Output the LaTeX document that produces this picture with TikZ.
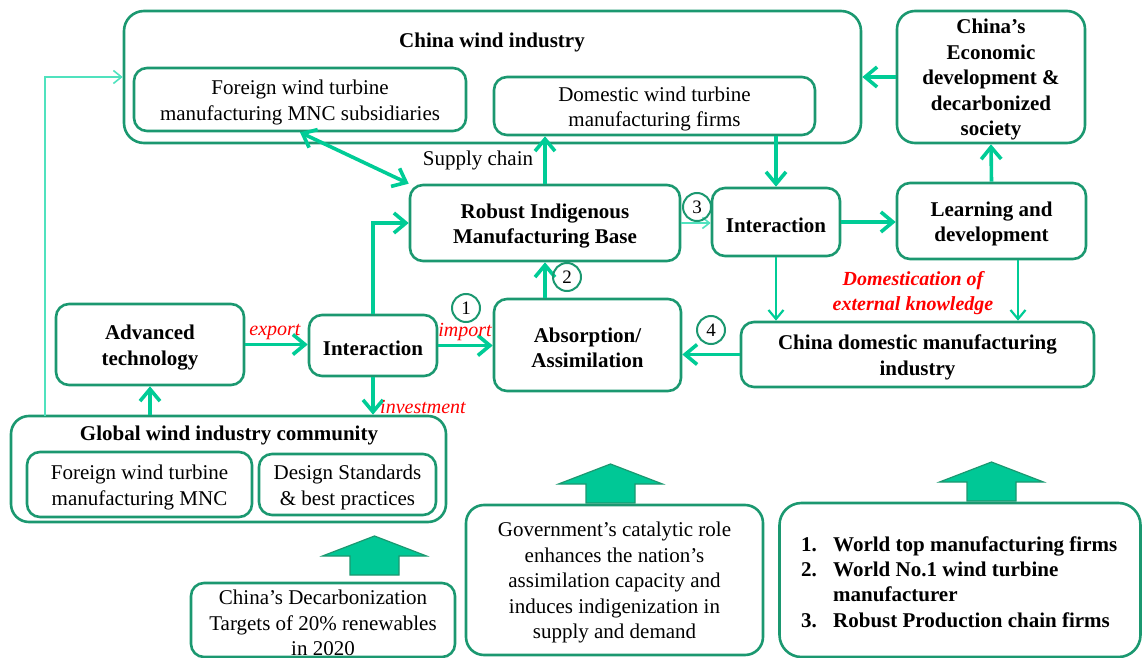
\documentclass[tikz,border=0pt]{standalone}
\usepackage{fontspec}
\setmainfont{Liberation Serif}
\usetikzlibrary{arrows.meta,calc}
\definecolor{boxc}{RGB}{27,152,112}
\definecolor{arrc}{RGB}{0,204,150}
\definecolor{lightc}{RGB}{80,226,190}
\definecolor{redc}{RGB}{255,0,0}
\definecolor{fillc}{RGB}{0,200,150}
% tall strut opening the first line of a box text
\newcommand\lnup{\rule{0pt}{20.5pt}}
\begin{document}
\begin{tikzpicture}[x=1pt,y=-1pt,
  box/.style={draw=boxc, line width=2.6, rounded corners=13, inner sep=0,
    align=center, font=\fontsize{21}{25.5}\selectfont},
  bbox/.style={box, font=\fontsize{21}{25.5}\selectfont\bfseries},
  txt/.style={inner sep=0, align=center, font=\fontsize{21}{25.5}\selectfont},
  btxt/.style={txt, font=\fontsize{21}{25.5}\selectfont\bfseries},
  redlbl/.style={inner sep=0, text=redc, font=\fontsize{20}{24}\selectfont\itshape},
  numc/.style={circle, draw=boxc, line width=2, minimum size=28, inner sep=0,
    font=\fontsize{19}{19}\selectfont},
  arr/.style={draw=arrc, line width=3.6, -{Straight Barb[length=12,width=20]}},
  darr/.style={draw=arrc, line width=3.6, {Straight Barb[length=12,width=20]}-{Straight Barb[length=12,width=20]}},
  tarr/.style={draw=arrc, line width=2.2, -{Straight Barb[length=9,width=15]}},
  fbarr/.style={draw=lightc, line width=1.6, -{Straight Barb[length=8,width=13]}},
  blockarr/.style={draw=boxc, line width=1.2, fill=fillc}
]
\useasboundingbox (0,0) rectangle (1143,658);

% --- China wind industry group ---
\node[box, rounded corners=20, minimum width=737, minimum height=132] (cwi) at (492.5,77) {};
\node[btxt] (cwititle) at (492,40) {\lnup China wind industry};
\node[box, minimum width=332, minimum height=63] (fsub) at (300,99.5)
  {\lnup Foreign wind turbine\\manufacturing MNC subsidiaries};
\node[box, minimum width=321, minimum height=58] (dom) at (654.5,106)
  {\lnup Domestic wind turbine\\manufacturing firms};

\node[bbox, rounded corners=18, minimum width=188, minimum height=132] (econ) at (991,77)
  {\lnup China’s\\Economic\\development \&\\decarbonized\\society};

% --- middle row ---
\node[bbox, minimum width=270, minimum height=76] (robust) at (545,223)
  {\lnup Robust Indigenous\\Manufacturing Base};
\node[bbox, minimum width=128, minimum height=68] (inter2) at (776,222) {\lnup Interaction};
\node[bbox, minimum width=189, minimum height=76] (learn) at (991.5,221)
  {\lnup Learning and\\development};

\node[bbox, minimum width=188, minimum height=81] (adv) at (150,344.5)
  {\lnup Advanced\\technology};
\node[bbox, minimum width=128, minimum height=61] (inter1) at (373,345.5) {\lnup Interaction};
\node[bbox, minimum width=187, minimum height=92] (absorb) at (587.5,345)
  {\lnup Absorption/\\Assimilation};
\node[bbox, minimum width=353, minimum height=65] (cdm) at (917.5,354.5)
  {\lnup China domestic manufacturing\\industry};

% --- global community group ---
\node[box, rounded corners=18, minimum width=435, minimum height=106] (glob) at (228.5,469) {};
\node[btxt] (globtitle) at (229,433) {\lnup Global wind industry community};
\node[box, minimum width=225, minimum height=65] (gmnc) at (139.5,484.5)
  {\lnup Foreign wind turbine\\manufacturing MNC};
\node[box, minimum width=177, minimum height=61] (gstd) at (347.5,484.5)
  {\lnup Design Standards\\\& best practices};

% --- bottom boxes ---
\node[box, minimum width=264, minimum height=74] (decarb) at (323,620)
  {\lnup China’s Decarbonization\\Targets of 20\% renewables\\in 2020};
\node[box, rounded corners=18, minimum width=297, minimum height=150] (gov) at (614.5,580)
  {\lnup Government’s catalytic role\\enhances the nation’s\\assimilation capacity and\\induces indigenization in\\supply and demand};
\node[box, rounded corners=22, minimum width=361, minimum height=154] (list) at (960,580) {};
\node[txt, align=left, anchor=west, font=\fontsize{21}{25.3}\selectfont\bfseries] (listtxt) at (801,582)
  {\makebox[32pt][l]{1.}World top manufacturing firms\\
   \makebox[32pt][l]{2.}World No.1 wind turbine\\
   \makebox[32pt][l]{}manufacturer\\
   \makebox[32pt][l]{3.}Robust Production chain firms};

% --- block arrows above the bottom boxes ---
\foreach \cx/\cy in {374.5/575, 610.5/503, 991.5/501}
  \draw[blockarr] (\cx-24.5,\cy) -- (\cx-24.5,\cy-19) -- (\cx-52,\cy-19) -- (\cx,\cy-39)
    -- (\cx+52,\cy-19) -- (\cx+24.5,\cy-19) -- (\cx+24.5,\cy) -- cycle;

% --- connectors ---
\draw[arr] (econ.west) -- (cwi.east);
\draw[arr] (learn.north) -- (econ.south);
\draw[arr] (inter2.east) -- (inter2.east -| learn.west);
\draw[draw=lightc, line width=1.6, -{Straight Barb[length=7,width=11]}] (robust.east) -- (robust.east -| inter2.west);
\draw[arr] (dom.south -| inter2.north) -- (inter2.north);
\draw[arr] (robust.north) -- (robust.north |- dom.south);
\node[txt] (supply) at (478,158) {\lnup Supply chain};
\draw[darr] (fsub.south) -- (robust.north west);
\draw[arr] (robust.south |- absorb.north) -- (robust.south);
\draw[arr] (inter1.north) |- (robust.west);
\draw[arr] (adv.east) -- (adv.east -| inter1.west);
\draw[arr] (inter1.east) -- (inter1.east -| absorb.west);
\draw[arr] (inter1.south) -- (inter1.south |- glob.north);
\draw[arr] (adv.south |- glob.north) -- (adv.south);
\coordinate (fb) at (45,416);
\draw[fbarr] (fb) |- (cwi.west);
\draw[arr] (cdm.west) -- (cdm.west -| absorb.east);
\draw[tarr] (inter2.south) -- (inter2.south |- cdm.north);
\coordinate (lx) at (1018,0);
\draw[tarr] (learn.south -| lx) -- (cdm.north -| lx);

% --- labels ---
\node[redlbl] (lexport) at (275,332) {export};
\node[redlbl] (limport) at (465,332) {import};
\node[redlbl] (linvest) at (423,407) {investment};
\node[redlbl, font=\fontsize{20}{25}\selectfont\bfseries\itshape, align=center] (ldom) at (913,293)
  {Domestication of\\external knowledge};

\node[numc] (n1) at (466,308) {1};
\node[numc] (n2) at (567,277) {2};
\node[numc] (n3) at (697,207) {3};
\node[numc] (n4) at (711,330) {4};
\end{tikzpicture}
\end{document}
